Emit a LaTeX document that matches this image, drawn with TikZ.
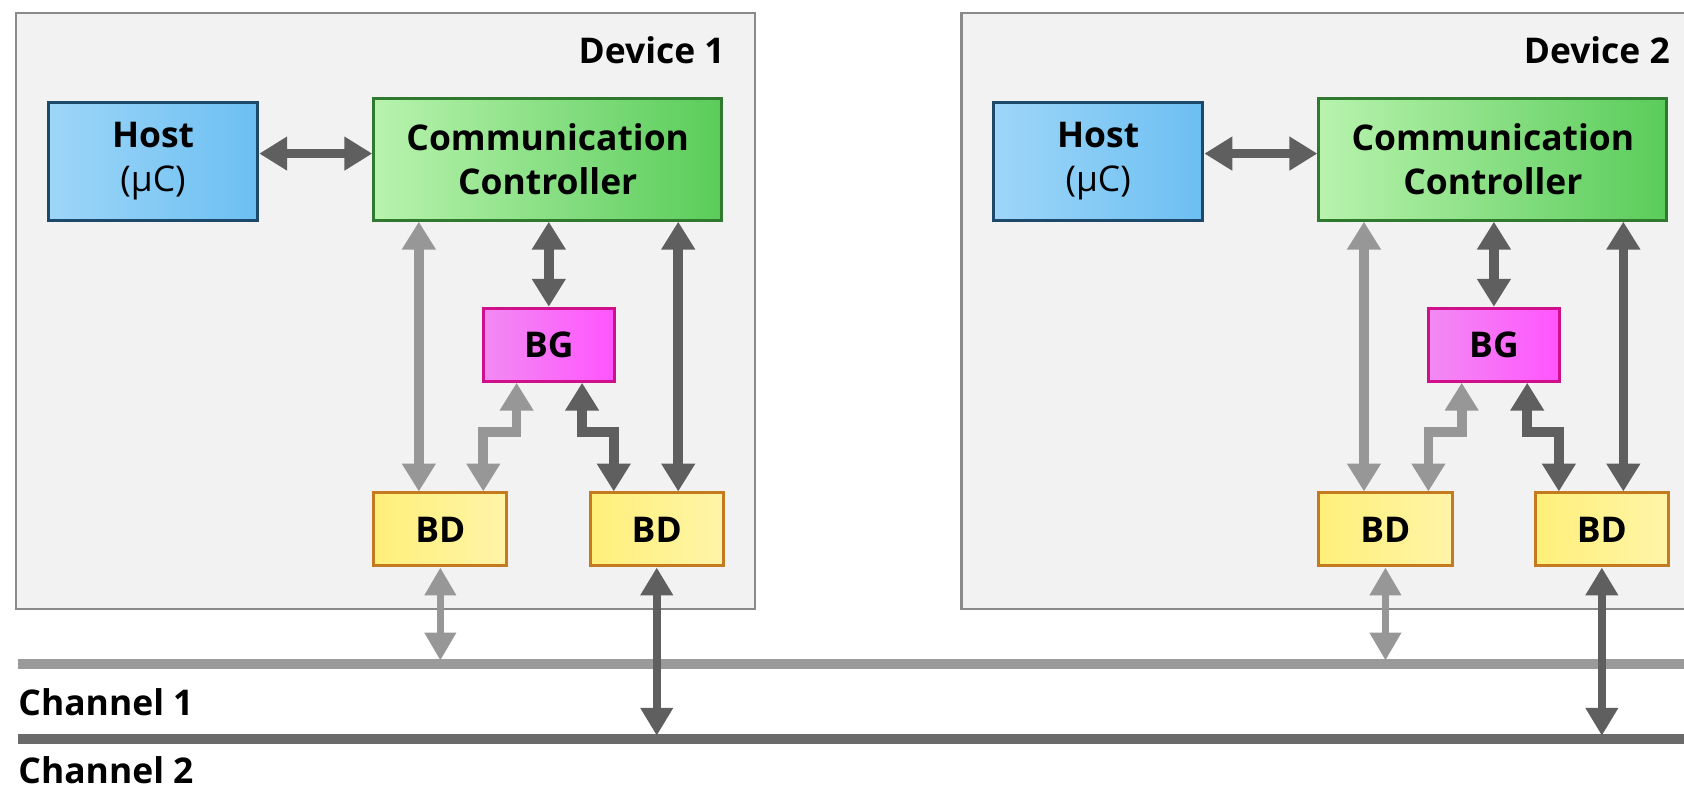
\documentclass[tikz,border=0pt]{standalone}
\usepackage{fontspec}
\setmainfont{Open Sans}
\usetikzlibrary{arrows.meta,shadings}
\definecolor{devfill}{HTML}{F2F2F2}
\definecolor{devb}{HTML}{8A8A8A}
\definecolor{darkg}{HTML}{5F5F5F}
\definecolor{lightg}{HTML}{979797}
\definecolor{hostl}{HTML}{9ED6F8}
\definecolor{hostr}{HTML}{6CBFF2}
\definecolor{hostb}{HTML}{1D4A6B}
\definecolor{ccl}{HTML}{B8F3AE}
\definecolor{ccr}{HTML}{5ACC5A}
\definecolor{ccb}{HTML}{2F7A2F}
\definecolor{bgl}{HTML}{F28AF2}
\definecolor{bgr}{HTML}{FF55FF}
\definecolor{bgb}{HTML}{D0108A}
\definecolor{bdl}{HTML}{FFF07A}
\definecolor{bdr}{HTML}{FFF4A8}
\definecolor{bdb}{HTML}{C47A1E}
\definecolor{chone}{HTML}{9A9A9A}
\definecolor{chtwo}{HTML}{6A6A6A}
\newcommand{\lblfont}{\fontsize{33}{41}\selectfont\bfseries}
\begin{document}
\begin{tikzpicture}[x=1pt,y=-1pt,
  box/.style={draw, line width=2.8pt, inner sep=0pt, align=center, font=\lblfont, text=black},
  hostbox/.style={box, draw=hostb, left color=hostl, right color=hostr, minimum width=195pt, minimum height=110pt},
  ccbox/.style={box, draw=ccb, left color=ccl, right color=ccr, minimum width=324pt, minimum height=113pt},
  bgbox/.style={box, draw=bgb, left color=bgl, right color=bgr, minimum width=122pt, minimum height=68pt},
  bdbox/.style={box, draw=bdb, left color=bdl, right color=bdr, minimum width=124pt, minimum height=68pt},
  devbox/.style={draw=devb, fill=devfill, line width=2.5pt},
  darkarr/.style={draw=darkg, line width=9pt, {Triangle[width=30pt,length=26pt]}-{Triangle[width=30pt,length=26pt]}},
  lightarr/.style={draw=lightg, line width=9pt, {Triangle[width=30pt,length=26pt]}-{Triangle[width=30pt,length=26pt]}},
  darklow/.style={draw=darkg, line width=7pt, {Triangle[width=29pt,length=26pt]}-{Triangle[width=29pt,length=26pt]}},
  lightlow/.style={draw=lightg, line width=7pt, {Triangle[width=28pt,length=26pt]}-{Triangle[width=28pt,length=26pt]}},
  chlabel/.style={anchor=west, inner sep=0pt, font=\lblfont}
]
\useasboundingbox (0,0) rectangle (1568,736);
\clip (0,0) rectangle (1568,736);
\fill[white] (0,0) rectangle (1568,736);

% channels
\coordinate (c1a) at (17,618);
\coordinate (c1b) at (1570,618);
\coordinate (c2a) at (17,688);
\coordinate (c2b) at (1570,688);
\draw[chone, line width=9pt] (c1a) -- (c1b);
\draw[chtwo, line width=9pt] (c2a) -- (c2b);
\node[chlabel] (lab1) at (17,654) {Channel 1};
\node[chlabel] (lab2) at (17,717) {Channel 2};

\foreach \i/\dx in {1/0,2/880}{
  \begin{scope}[xshift=\dx pt]
    \draw[devbox] (15,12) rectangle (703,567);
    \node[anchor=east, inner sep=0pt, font=\lblfont] (dev\i) at (675,47) {Device \i};
    \node[hostbox] (host\i) at (142.5,150) {Host\\{\mdseries(μC)}};
    \node[ccbox] (cc\i) at (510,148.5) {Communication\\Controller};
    \node[bgbox] (bg\i) at (511,321) {BG};
    \node[bdbox] (bdl\i) at (410,493) {BD};
    \node[bdbox] (bdr\i) at (611.5,493) {BD};
  \end{scope}
  % host - cc
  \draw[darkarr] ([yshift=7pt]host\i.east) -- ([yshift=7pt]host\i.east -| cc\i.west);
  % cc - bg
  \draw[darkarr] (cc\i.south -| bg\i.north) -- (bg\i.north);
  % cc - bd left (light)
  \draw[lightarr] ([xshift=-20pt]bdl\i.north |- cc\i.south) -- ([xshift=-20pt]bdl\i.north);
  % cc - bd right (dark)
  \draw[darkarr] ([xshift=20pt]bdr\i.north |- cc\i.south) -- ([xshift=20pt]bdr\i.north);
  % bg - bd left zigzag
  \draw[lightarr] ([xshift=-30pt]bg\i.south) -- ++(0,46) -| ([xshift=40pt]bdl\i.north);
  % bg - bd right zigzag
  \draw[darkarr] ([xshift=31pt]bg\i.south) -- ++(0,46) -| ([xshift=-40pt]bdr\i.north);
  % bd - channels
  \draw[lightlow] (bdl\i.south) -- ([yshift=3pt]bdl\i.south |- c1a);
  \draw[darklow] (bdr\i.south) -- ([yshift=3pt]bdr\i.south |- c2a);
}
\end{tikzpicture}
\end{document}
